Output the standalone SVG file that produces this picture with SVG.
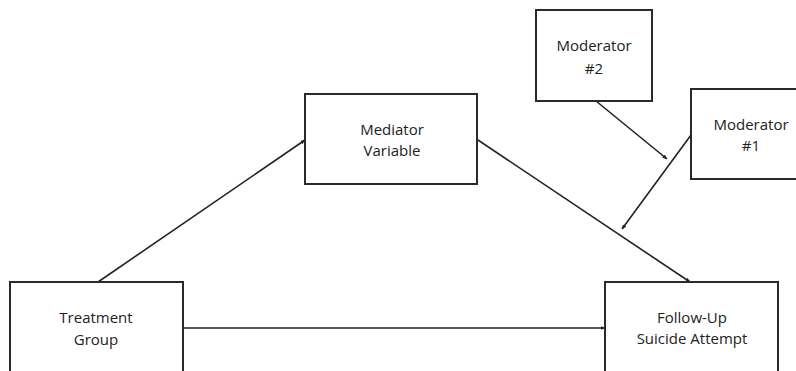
<svg xmlns="http://www.w3.org/2000/svg" width="796" height="371" viewBox="0 0 796 371">
<style>
.box{fill:#fff;stroke:#2a2a2a;stroke-width:2}
.lbl{font-family:"Open Sans","Liberation Sans",sans-serif;font-size:15px;font-weight:500;fill:#222;text-anchor:middle}
.edge{stroke:#222;stroke-width:1.6;fill:none;marker-end:url(#ah)}
</style>
<defs>
<marker id="ah" viewBox="0 0 10 10" refX="9" refY="5" markerWidth="5" markerHeight="5" orient="auto" markerUnits="userSpaceOnUse">
<path d="M0,1 L10,5 L0,9 z" fill="#222"/>
</marker>
</defs>
<rect width="796" height="371" fill="#fff"/>
<g id="connectors">
<line class="edge" x1="98" y1="282" x2="305" y2="140"/>
<line class="edge" x1="183" y1="328" x2="605" y2="328"/>
<line class="edge" x1="478" y1="140" x2="690" y2="282"/>
<line class="edge" x1="596" y1="101" x2="667" y2="159"/>
<line class="edge" x1="691" y1="135" x2="622" y2="229"/>
</g>
<g id="treatment">
<rect class="box" x="10" y="282" width="173" height="100"/>
<text class="lbl" x="96" y="323">Treatment</text>
<text class="lbl" x="96" y="345">Group</text>
</g>
<g id="followup">
<rect class="box" x="605" y="282" width="173" height="100"/>
<text class="lbl" x="692" y="323">Follow-Up</text>
<text class="lbl" x="692" y="344">Suicide Attempt</text>
</g>
<g id="mediator">
<rect class="box" x="305" y="94" width="172" height="90"/>
<text class="lbl" x="392" y="135">Mediator</text>
<text class="lbl" x="392" y="156">Variable</text>
</g>
<g id="moderator2">
<rect class="box" x="536" y="10" width="116" height="91"/>
<text class="lbl" x="594" y="51">Moderator</text>
<text class="lbl" x="594" y="74">#2</text>
</g>
<g id="moderator1">
<rect class="box" x="691" y="89" width="120" height="90"/>
<text class="lbl" x="751" y="130">Moderator</text>
<text class="lbl" x="751" y="151">#1</text>
</g>
</svg>
